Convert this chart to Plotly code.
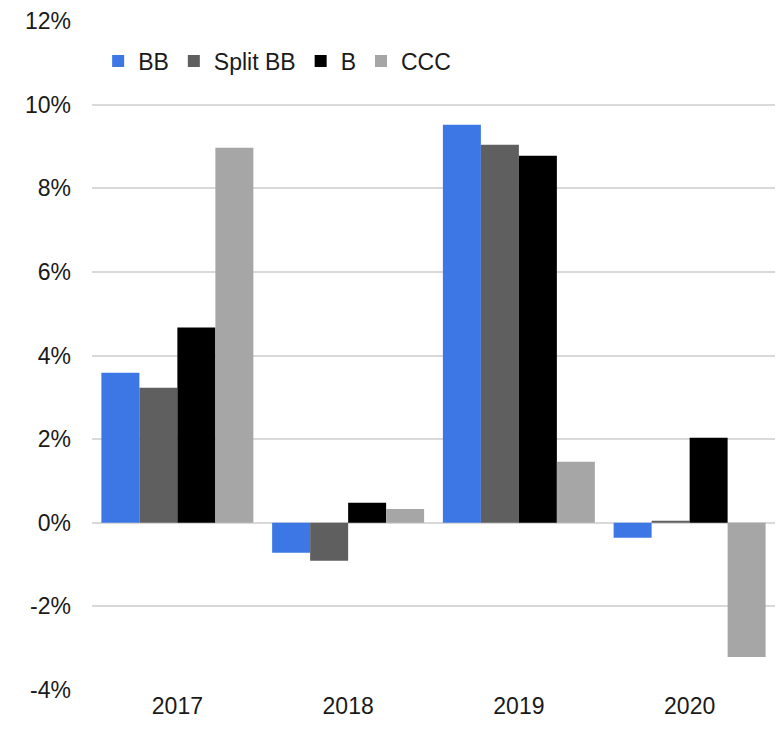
import plotly.graph_objects as go

years = ["2017", "2018", "2019", "2020"]
bb = [3.59, -0.72, 9.52, -0.36]
split_bb = [3.23, -0.91, 9.04, 0.05]
b = [4.67, 0.48, 8.78, 2.03]
ccc = [8.97, 0.33, 1.46, -3.21]

series = [("BB", bb, "#3d77e6"), ("Split BB", split_bb, "#5f5f5f"),
          ("B", b, "#000000"), ("CCC", ccc, "#a6a6a6")]

tick_vals = [-4, -2, 0, 2, 4, 6, 8, 10, 12]
tick_text = ["-4%", "-2%", "0%", "2%", "4%", "6%", "8%", "10%", "12%"]

fig = go.Figure()
for name, vals, col in series:
    fig.add_trace(go.Bar(x=years, y=vals, name=name, marker=dict(color=col, line=dict(width=0))))

font = "Liberation Sans, Arial, sans-serif"
fig.update_layout(
    width=782, height=732,
    margin=dict(l=92, r=7, t=21, b=42),
    paper_bgcolor="white", plot_bgcolor="white",
    barmode="group", bargap=0.11, bargroupgap=0,
    font=dict(family=font, size=23, color="#1a1a1a"),
    legend=dict(orientation="h", x=0.009, y=0.94, xanchor="left", yanchor="middle",
                font=dict(size=23), itemwidth=30, traceorder="normal",
                bgcolor="rgba(0,0,0,0)"),
    xaxis=dict(showgrid=False, showline=False, ticks="", tickfont=dict(size=23)),
    yaxis=dict(range=[-4, 12], tickvals=tick_vals, ticktext=tick_text,
               showgrid=True, gridcolor="#d9d9d9", gridwidth=2,
               zeroline=True, zerolinecolor="#d9d9d9", zerolinewidth=2,
               ticks="", ticklabelstandoff=20, tickfont=dict(size=23)),
)
fig.write_html("out.html")
